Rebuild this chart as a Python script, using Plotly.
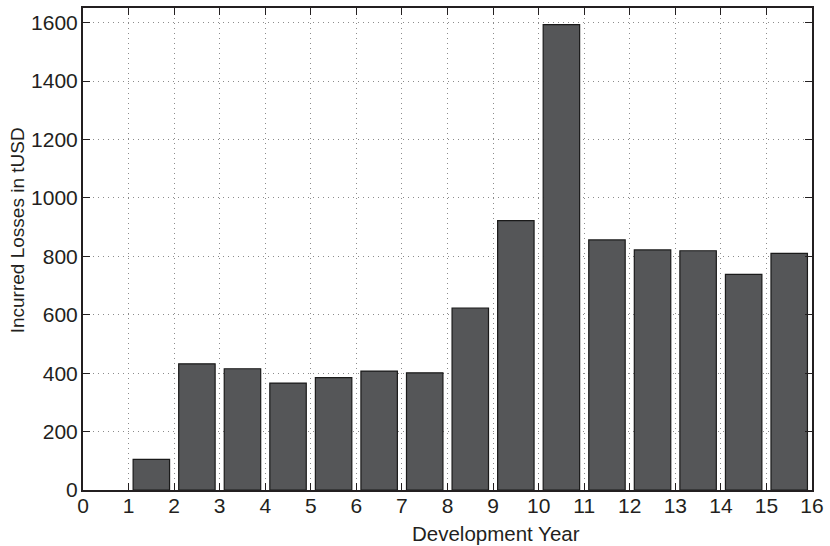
import plotly.graph_objects as go

# Incurred losses per development year (tUSD)
years = list(range(1, 16))
losses = [105, 432, 415, 366, 385, 407, 401, 623, 922, 1593, 856, 822, 819, 738, 810]

x_ticks = list(range(0, 17))
y_ticks = list(range(0, 1601, 200))

FONT = "Liberation Sans, Arial, Helvetica, sans-serif"
INK = "#231f20"

fig = go.Figure()
fig.add_trace(go.Bar(
    x=years,
    y=losses,
    width=0.8,
    offset=0.1,
    marker=dict(color="#555658", line=dict(color="#1a1a1a", width=1.2)),
))

axis_common = dict(
    showline=True,
    linecolor=INK,
    linewidth=2,
    mirror="ticks",
    ticks="inside",
    ticklen=7,
    tickwidth=1.3,
    tickcolor=INK,
    showgrid=True,
    gridcolor="#8c8c8c",
    griddash="1px,4px",
    gridwidth=1,
    zeroline=False,
    tickfont=dict(family=FONT, size=21, color=INK),
)

fig.update_layout(
    width=830,
    height=546,
    margin=dict(l=83, r=13, t=6, b=56),
    plot_bgcolor="white",
    paper_bgcolor="white",
    showlegend=False,
    font=dict(family=FONT, size=19, color=INK),
    xaxis=dict(range=[0, 16], tickmode="array", tickvals=x_ticks,
               ticklabelstandoff=-4, **axis_common),
    yaxis=dict(range=[0, 1650], tickmode="array", tickvals=y_ticks,
               ticklabelstandoff=-1, **axis_common),
    annotations=[
        dict(text="Development Year", xref="paper", yref="paper",
             x=0.566, y=-0.091, xanchor="center", yanchor="middle",
             showarrow=False, font=dict(family=FONT, size=20.5, color=INK)),
        dict(text="Incurred Losses in tUSD", xref="paper", yref="paper",
             x=-0.0904, y=0.539, xanchor="center", yanchor="middle", textangle=-90,
             showarrow=False, font=dict(family=FONT, size=19, color=INK)),
    ],
)

fig.write_html("out.html")
